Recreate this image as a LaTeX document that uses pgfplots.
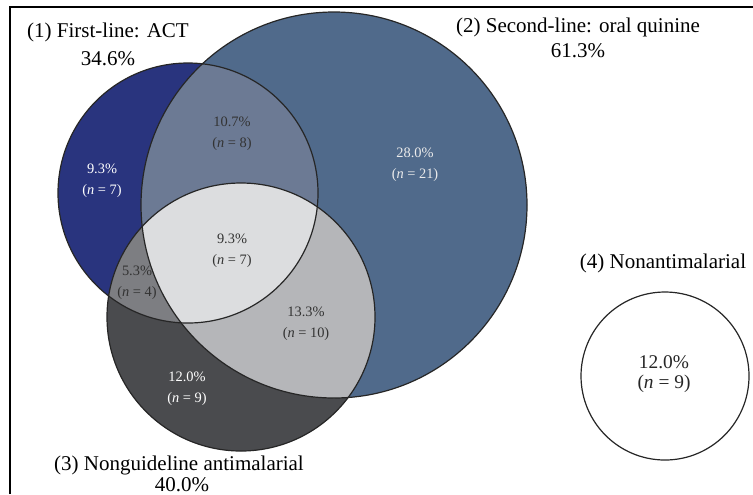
\documentclass[border=0pt]{standalone}
\usepackage{pgfplots}
\pgfplotsset{compat=1.18}
\usepackage{fontspec}
\setmainfont{Liberation Serif}

% region colours
\definecolor{cA}{HTML}{29347E}   % first-line only
\definecolor{cB}{HTML}{506A8B}   % second-line only
\definecolor{cC}{HTML}{4A4B4E}   % nonguideline only
\definecolor{cAB}{HTML}{6C7A94}
\definecolor{cAC}{HTML}{7D7E82}
\definecolor{cBC}{HTML}{B5B6B9}
\definecolor{cABC}{HTML}{DCDDDF}

% circles: centre x, centre y, radius (picture units, y downwards)
\newcommand{\cA}{(axis cs:188,193) circle[radius=130]}
\newcommand{\cB}{(axis cs:334,205) circle[radius=193]}
\newcommand{\cC}{(axis cs:241,317) circle[radius=134]}
\newcommand{\cD}{(axis cs:665,376) circle[radius=84]}

\begin{document}
\begin{tikzpicture}
\begin{axis}[
  scale only axis,
  width=376.5pt, height=247pt,
  xmin=0, xmax=753, ymin=0, ymax=494,
  y dir=reverse,
  hide axis,
  clip=false,
]
% frame
\addplot[black, line width=0.6pt] coordinates {(10,494) (10,7) (753,7)};

\fill[cA] \cA;
\fill[cB] \cB;
\fill[cC] \cC;
\begin{scope}
  \clip \cA; \fill[cAB] \cB;
\end{scope}
\begin{scope}
  \clip \cA; \fill[cAC] \cC;
\end{scope}
\begin{scope}
  \clip \cB; \fill[cBC] \cC;
\end{scope}
\begin{scope}
  \clip \cA; \clip \cB; \fill[cABC] \cC;
\end{scope}
\draw[black!85, line width=0.6pt] \cA;
\draw[black!85, line width=0.6pt] \cB;
\draw[black!85, line width=0.6pt] \cC;
\draw[black!85, line width=0.6pt, fill=white] \cD;

% set titles
\begin{scope}[every node/.style={font=\fontsize{10.5}{12}\selectfont, inner sep=0pt}]
\node at (axis cs:108,32) {(1) First-line: ACT};
\node at (axis cs:108,59) {34.6\%};
\node at (axis cs:578,27) {(2) Second-line: oral quinine};
\node at (axis cs:578,51) {61.3\%};
\node at (axis cs:179,465) {(3) Nonguideline antimalarial};
\node at (axis cs:182,485) {40.0\%};
\node at (axis cs:663,263) {(4) Nonantimalarial};
\end{scope}

% region values
\begin{scope}[every node/.style={font=\fontsize{7.2}{10.5}\selectfont, align=center, inner sep=0pt}]
\node[white] at (axis cs:102,181) {9.3\%\\(\textit{n} = 7)};
\node[black!80] at (axis cs:232,134) {10.7\%\\(\textit{n} = 8)};
\node[white!92!black] at (axis cs:415,165) {28.0\%\\(\textit{n} = 21)};
\node[black!80] at (axis cs:232,251) {9.3\%\\(\textit{n} = 7)};
\node[black!80] at (axis cs:137,283) {5.3\%\\(\textit{n} = 4)};
\node[black!80] at (axis cs:306,324) {13.3\%\\(\textit{n} = 10)};
\node[white] at (axis cs:187,389) {12.0\%\\(\textit{n} = 9)};
\end{scope}
\node[font=\fontsize{9.7}{10}\selectfont, align=center, inner sep=0pt, black!85]
  at (axis cs:664,374) {12.0\%\\(\textit{n} = 9)};
\end{axis}
\pgfresetboundingbox
\useasboundingbox (current axis.south west) rectangle (current axis.north east);
\end{tikzpicture}
\end{document}
